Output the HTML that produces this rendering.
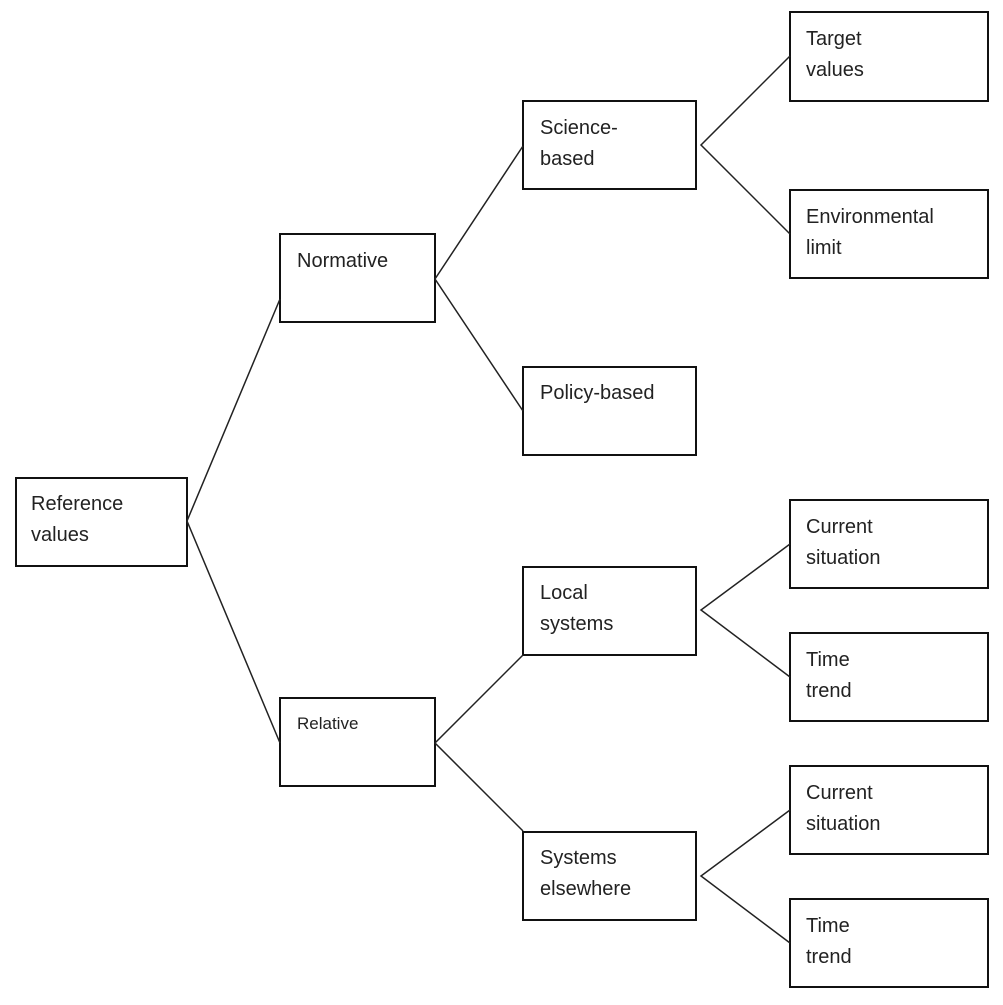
<!DOCTYPE html>
<html><head><meta charset="utf-8"><style>
body{margin:0;background:#fff;}
svg text{font-family:"Liberation Sans",sans-serif;font-size:20px;fill:#222;}
</style></head><body>
<svg width="1003" height="1000" xmlns="http://www.w3.org/2000/svg">
<g fill="#fff" stroke="#111" stroke-width="2">
<rect x="16" y="478" width="171" height="88"/>
<rect x="280" y="234" width="155" height="88"/>
<rect x="280" y="698" width="155" height="88"/>
<rect x="523" y="101" width="173" height="88"/>
<rect x="523" y="367" width="173" height="88"/>
<rect x="523" y="567" width="173" height="88"/>
<rect x="523" y="832" width="173" height="88"/>
<rect x="790" y="12" width="198" height="89"/>
<rect x="790" y="190" width="198" height="88"/>
<rect x="790" y="500" width="198" height="88"/>
<rect x="790" y="633" width="198" height="88"/>
<rect x="790" y="766" width="198" height="88"/>
<rect x="790" y="899" width="198" height="88"/>
</g>
<g stroke="#222" stroke-width="1.5" fill="none">
<polyline points="280,299 187,521 280,743"/>
<polyline points="523,146 435,279 523,411"/>
<polyline points="523,655 435,743 523,831"/>
<polyline points="790,56 701,145 790,234"/>
<polyline points="790,544 701,610 790,677"/>
<polyline points="790,810 701,876 790,943"/>
</g>
<text x="31" y="510">Reference</text><text x="31" y="541">values</text>
<text x="297" y="267">Normative</text>
<text x="297" y="729" style="font-size:17px">Relative</text>
<text x="540" y="134">Science-</text><text x="540" y="165">based</text>
<text x="540" y="399">Policy-based</text>
<text x="540" y="599">Local</text><text x="540" y="630">systems</text>
<text x="540" y="864">Systems</text><text x="540" y="895">elsewhere</text>
<text x="806" y="45">Target</text><text x="806" y="76">values</text>
<text x="806" y="223">Environmental</text><text x="806" y="254">limit</text>
<text x="806" y="533">Current</text><text x="806" y="564">situation</text>
<text x="806" y="666">Time</text><text x="806" y="697">trend</text>
<text x="806" y="799">Current</text><text x="806" y="830">situation</text>
<text x="806" y="932">Time</text><text x="806" y="963">trend</text>
</svg>
</body></html>
